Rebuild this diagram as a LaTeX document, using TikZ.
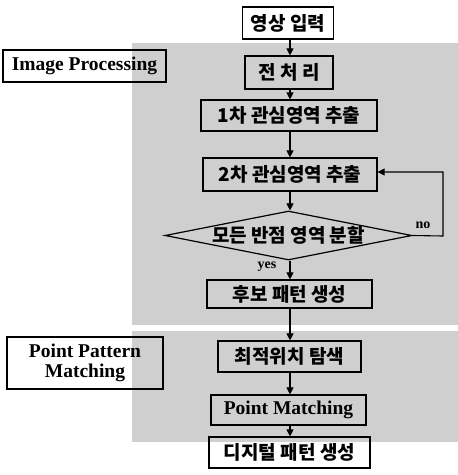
\documentclass[tikz,border=0pt]{standalone}
\usepackage{fontspec}
\setmainfont{Liberation Serif}
\newfontfamily\kr{Noto Sans CJK KR}
\usetikzlibrary{arrows.meta,shapes.geometric}
\definecolor{bggray}{gray}{0.81}
\tikzset{
  box/.style={draw, line width=1.2pt, inner sep=0pt, align=center},
  krt/.style={font=\kr\bfseries\fontsize{19}{21}\selectfont},
  ent/.style={font=\bfseries\fontsize{19.5}{20}\selectfont},
  arr/.style={line width=1.1pt, -{Triangle[length=7pt,width=7pt]}},
  small/.style={font=\bfseries\fontsize{14}{16}\selectfont},
  region/.style={fill=bggray, draw=none}
}
\begin{document}
\begin{tikzpicture}[x=1pt,y=-1pt]
\useasboundingbox (0,0) rectangle (458,475);
% gray regions
\fill[region] (132,43) rectangle (458,325);
\fill[region] (132,331) rectangle (458,442);
% side labels
\node[box, ent, minimum width=163pt, minimum height=32pt] (ip) at (84.5,66) {Image Processing};
\node[box, ent, minimum width=156pt, minimum height=52pt] (ppm) at (85,363) {Point Pattern\\Matching};
% flow
\node[box, krt, minimum width=91pt, minimum height=32pt] (in) at (288,23) {영상 입력};
\node[box, krt, minimum width=88pt, minimum height=33pt] (pre) at (289,72.5) {전 처 리};
\node[box, krt, minimum width=176pt, minimum height=31pt] (r1) at (289,115.5) {1차 관심영역 추출};
\node[box, krt, minimum width=174pt, minimum height=33pt] (r2) at (290,174.5) {2차 관심영역 추출};
\node[box, diamond, shape aspect=5.04, minimum width=247pt, minimum height=49pt] (dec) at (288.5,235.5) {};
\node[krt] (dectext) at (dec.center) {모든 반점 영역 분할};
\node[box, krt, minimum width=165pt, minimum height=28pt] (cand) at (289.5,294) {후보 패턴 생성};
\node[box, krt, minimum width=143pt, minimum height=31pt] (opt) at (289.5,356.5) {최적위치 탐색};
\node[box, ent, minimum width=155pt, minimum height=30pt] (pm) at (288.5,410) {Point Matching};
\node[box, krt, minimum width=161pt, minimum height=31pt] (out) at (289.5,452.5) {디지털 패턴 생성};
% arrows
\draw[arr] (in.south -| 290,0) -- (pre.north -| 290,0);
\draw[arr] (pre.south -| 290,0) -- (r1.north -| 290,0);
\draw[arr] (r1.south -| 290,0) -- (r2.north -| 290,0);
\draw[arr] (r2.south -| 290,0) -- (dec.north -| 290,0);
\draw[arr] (dec.south -| 290,0) -- (cand.north -| 290,0);
\draw[arr] (cand.south -| 290,0) -- (opt.north -| 290,0);
\draw[arr] (opt.south -| 290,0) -- (pm.north -| 290,0);
\draw[arr] (pm.south -| 290,0) -- (out.north -| 290,0);
\coordinate (lb) at (443,236);
\coordinate (lt) at (443,172);
\draw[arr] (dec.east) -- (lb) -- (lt) -- (r2.east |- lt);
% labels
\node[small] (no) at (423,225) {no};
\node[small] (yes) at (267,267) {yes};
\end{tikzpicture}
\end{document}
